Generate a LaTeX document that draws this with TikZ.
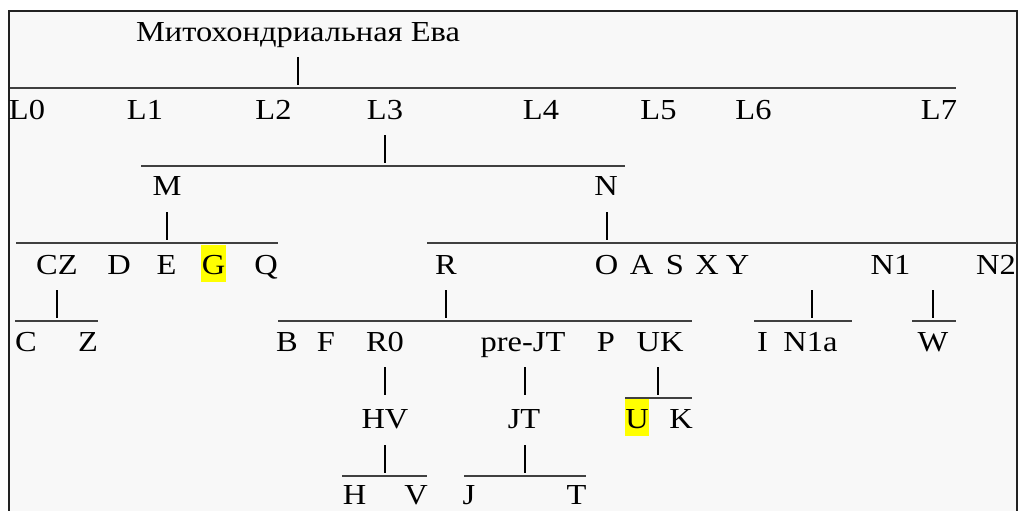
\documentclass[tikz,border=0pt]{standalone}
\usepackage{fontspec}
\setmainfont[FakeStretch=1.12]{Liberation Serif}
\usepackage{tikz}
\usetikzlibrary{calc}

\definecolor{panelgray}{HTML}{F8F8F8}
\definecolor{framegray}{HTML}{222222}
\definecolor{hilite}{HTML}{FFFF00}

\tikzset{
  lbl/.style={anchor=base, inner sep=0pt, font=\fontsize{29}{34}\selectfont},
  marked/.style={lbl, fill=hilite, inner xsep=0.5pt, text height=29pt, text depth=8pt},
  stem/.style={line width=2pt, black},
  branch/.style={line width=2pt, black!75},
}

\begin{document}
\begin{tikzpicture}[x=1pt, y=-1pt]
        \useasboundingbox (0,0) rectangle (1018,511);
        \fill[white] (0,0) rectangle (1018,511);
        \fill[panelgray] (9,11) rectangle (1017,511);
        \draw[framegray, line width=2pt] (9,511) -- (9,11) -- (1017,11) -- (1017,511);

        % root
        \node[lbl] (eve) at (298,42) {Митохондриальная Ева};
        \draw[stem] ([yshift=-15pt]eve.base) -- +(0,28);
        \draw[branch] (10,88) -- (956,88);

        % L row
        \node[lbl] (L0) at (27,119) {L0};
        \node[lbl] (L1) at (145,119) {L1};
        \node[lbl] (L2) at (273.5,119) {L2};
        \node[lbl] (L3) at (385,119) {L3};
        \node[lbl] (L4) at (541,119) {L4};
        \node[lbl] (L5) at (658.5,119) {L5};
        \node[lbl] (L6) at (753.5,119) {L6};
        \node[lbl] (L7) at (939,119) {L7};
        \draw[stem] ([yshift=-16pt]L3.base) -- +(0,28);
        \draw[branch] (141,166) -- (625,166);

        % M and N
        \node[lbl] (M) at (167,195) {M};
        \node[lbl] (N) at (606,195) {N};
        \draw[stem] ([yshift=-17pt]M.base) -- +(0,28);
        \draw[stem] ([xshift=1pt,yshift=-17pt]N.base) -- +(0,28);
        \draw[branch] (16,243) -- (278,243);
        \draw[branch] (427,243) -- (1017,243);

        % M branch
        \node[lbl] (CZ) at (57,274) {CZ};
        \node[lbl] (D) at (119,274) {D};
        \node[lbl] (E) at (166.5,274) {E};
        \node[marked] (G) at (213.5,274) {G};
        \node[lbl] (Q) at (266,274) {Q};
        \draw[stem] ([yshift=-16pt]CZ.base) -- +(0,28);
        \draw[branch] (15,321) -- (98,321);
        \node[lbl] (C) at (26,351) {C};
        \node[lbl] (Z) at (88,351) {Z};

        % N branch
        \node[lbl] (R) at (446,274) {R};
        \node[lbl] (O) at (606.5,274) {O};
        \node[lbl] (A) at (641.5,274) {A};
        \node[lbl] (S) at (675,274) {S};
        \node[lbl] (X) at (707,274) {X};
        \node[lbl] (Y) at (737.5,274) {Y};
        \node[lbl] (N1) at (890.5,274) {N1};
        \node[lbl] (N2) at (996,274) {N2};
        \draw[stem] ([yshift=-16pt]R.base) -- +(0,28);
        \draw[branch] (278,321) -- (692,321);
        \coordinate (n1stem) at (812,290);
        \coordinate (n2stem) at (933,290);
        \draw[stem] (n1stem) -- +(0,28);
        \draw[branch] (754,321) -- (852,321);
        \draw[stem] (n2stem) -- +(0,28);
        \draw[branch] (912,321) -- (956,321);

        % R branch
        \node[lbl] (B) at (287,351) {B};
        \node[lbl] (F) at (326,351) {F};
        \node[lbl] (R0) at (385,351) {R0};
        \node[lbl] (preJT) at (523,351) {pre-JT};
        \node[lbl] (P) at (606,351) {P};
        \node[lbl] (UK) at (660,351) {UK};
        \node[lbl] (I) at (762.5,351) {I};
        \node[lbl] (N1a) at (810.5,351) {N1a};
        \node[lbl] (W) at (933,351) {W};

        \draw[stem] ([yshift=-16pt]R0.base) -- +(0,28);
        \draw[stem] ([xshift=2pt,yshift=-16pt]preJT.base) -- +(0,28);
        \draw[stem] ([xshift=-2pt,yshift=-16pt]UK.base) -- +(0,28);
        \draw[branch] (625,398) -- (692,398);

        \node[lbl] (HV) at (385,428) {HV};
        \node[lbl] (JT) at (524,428) {JT};
        \node[marked] (U) at (637,428) {U};
        \node[lbl] (K) at (681,428) {K};

        \draw[stem] ([yshift=-17pt]HV.base) -- +(0,28);
        \draw[stem] ([xshift=1pt,yshift=-17pt]JT.base) -- +(0,28);
        \draw[branch] (342,476) -- (427,476);
        \draw[branch] (464,476) -- (586,476);

        \node[lbl] (H) at (354.5,504) {H};
        \node[lbl] (V) at (416,504) {V};
        \node[lbl] (J) at (469,504) {J};
        \node[lbl] (T) at (576.5,504) {T};
    \end{tikzpicture}
\end{document}
